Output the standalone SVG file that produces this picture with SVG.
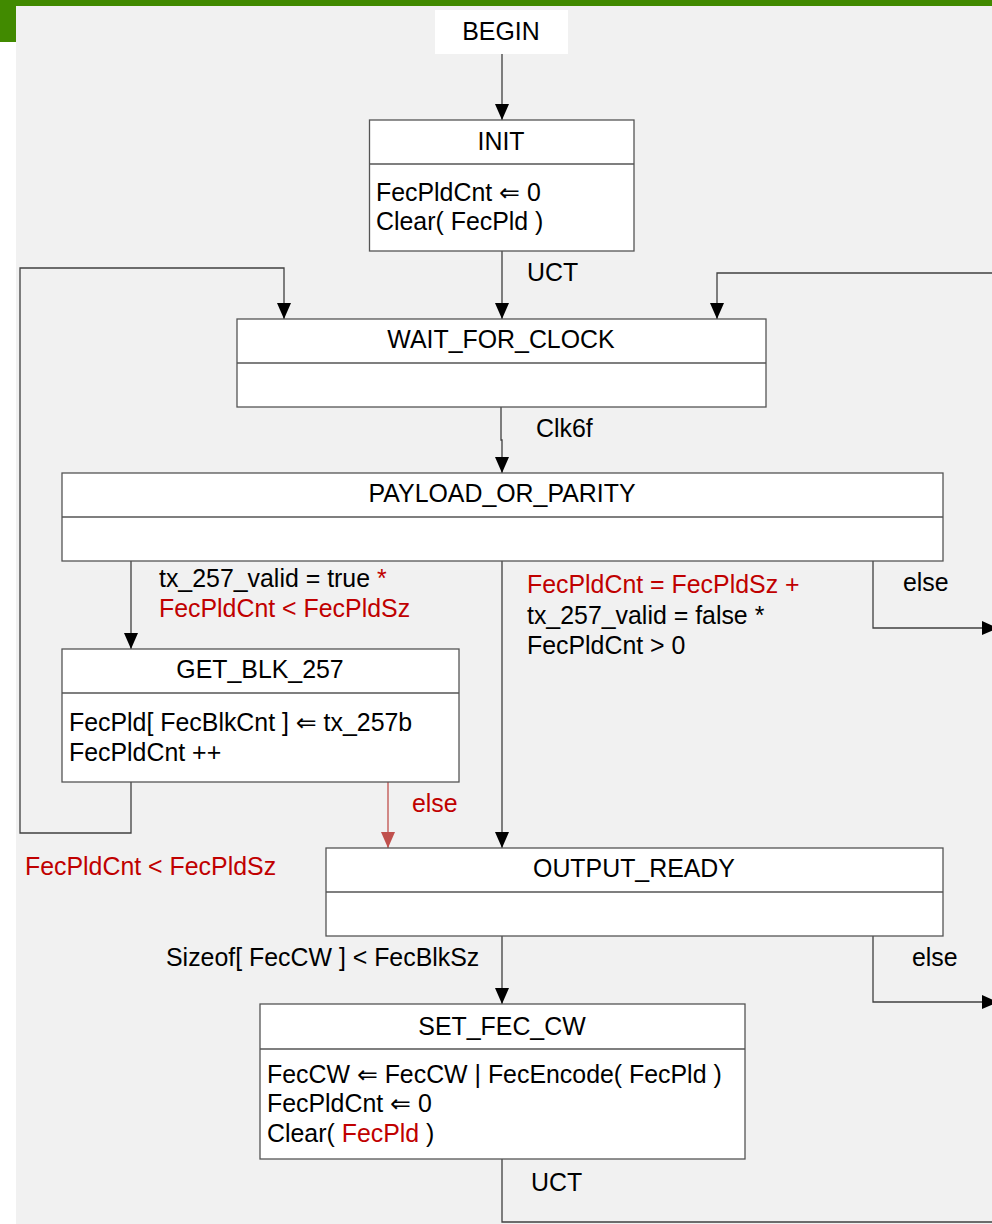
<svg xmlns="http://www.w3.org/2000/svg" width="992" height="1224" viewBox="0 0 992 1224">
  <style>
    text { font-family: "Liberation Sans", Arial, "DejaVu Sans", sans-serif; font-size: 24.9px; fill: #000; }
    .c { text-anchor: middle; }
    .red { fill: #c00000; }
    .box { fill: #fff; stroke: #555; stroke-width: 1.3; }
    .div { stroke: #555; stroke-width: 1.3; }
    .wire { fill: none; stroke: #404040; stroke-width: 1.3; }
    .wire-red { fill: none; stroke: #c0504d; stroke-width: 1.3; }
  </style>
  <defs>
    <marker id="arr" viewBox="0 0 16 14" refX="16" refY="7" markerWidth="16" markerHeight="14" markerUnits="userSpaceOnUse" orient="auto">
      <path d="M0,0 L16,7 L0,14 Z" fill="#000"/>
    </marker>
    <marker id="arr-red" viewBox="0 0 16 14" refX="16" refY="7" markerWidth="16" markerHeight="14" markerUnits="userSpaceOnUse" orient="auto">
      <path d="M0,0 L16,7 L0,14 Z" fill="#c0504d"/>
    </marker>
  </defs>

  <!-- page frame -->
  <rect x="0" y="0" width="992" height="1224" fill="#fff"/>
  <rect x="16" y="6" width="976" height="1218" fill="#f1f1f1"/>
  <rect x="0" y="0" width="992" height="6" fill="#418a00"/>
  <rect x="0" y="0" width="16" height="42" fill="#418a00"/>

  <!-- connectors -->
  <g id="connectors">
    <path class="wire" d="M502,54 V120" marker-end="url(#arr)"/>
    <path class="wire" d="M502,251 V319" marker-end="url(#arr)"/>
    <path class="wire" d="M131,782 V833 H20 V268 H284 V319" marker-end="url(#arr)"/>
    <path class="wire" d="M992,273 H717 V319" marker-end="url(#arr)"/>
    <path class="wire" d="M501,407 V440 H502 V473" marker-end="url(#arr)"/>
    <path class="wire" d="M131,561 V649" marker-end="url(#arr)"/>
    <path class="wire" d="M502,561 V848" marker-end="url(#arr)"/>
    <path class="wire" d="M873,561 V628 H998" marker-end="url(#arr)"/>
    <path class="wire-red" d="M388,782 V848" marker-end="url(#arr-red)"/>
    <path class="wire" d="M502,936 V1004" marker-end="url(#arr)"/>
    <path class="wire" d="M873,936 V1002 H998" marker-end="url(#arr)"/>
    <path class="wire" d="M502,1159 V1222 H992"/>

    <text x="527" y="281">UCT</text>
    <text x="536" y="437">Clk6f</text>
    <text x="159" y="587">tx_257_valid = true <tspan class="red">*</tspan></text>
    <text x="159" y="617" class="red">FecPldCnt &lt; FecPldSz</text>
    <text x="527" y="593" class="red">FecPldCnt = FecPldSz +</text>
    <text x="527" y="624">tx_257_valid = false *</text>
    <text x="527" y="654">FecPldCnt &gt; 0</text>
    <text x="903" y="591">else</text>
    <text x="412" y="812" class="red">else</text>
    <text x="25" y="875" class="red">FecPldCnt &lt; FecPldSz</text>
    <text x="166" y="966">Sizeof[ FecCW ] &lt; FecBlkSz</text>
    <text x="912" y="966">else</text>
    <text x="531" y="1191">UCT</text>
  </g>

  <g id="begin">
    <rect x="435" y="10" width="133" height="44" fill="#fff"/>
    <text x="501" y="40" class="c">BEGIN</text>
  </g>

  <g id="init">
    <rect class="box" x="369.5" y="120" width="264.5" height="131"/>
    <line class="div" x1="369.5" y1="164" x2="634" y2="164"/>
    <text x="501" y="150" class="c">INIT</text>
    <text x="376" y="201">FecPldCnt ⇐ 0</text>
    <text x="376" y="230">Clear( FecPld )</text>
  </g>

  <g id="wait_for_clock">
    <rect class="box" x="237" y="319" width="529" height="88"/>
    <line class="div" x1="237" y1="363" x2="766" y2="363"/>
    <text x="501" y="348" class="c">WAIT_FOR_CLOCK</text>
  </g>

  <g id="payload_or_parity">
    <rect class="box" x="62" y="473" width="881" height="88"/>
    <line class="div" x1="62" y1="517" x2="943" y2="517"/>
    <text x="502" y="502" class="c">PAYLOAD_OR_PARITY</text>
  </g>

  <g id="get_blk_257">
    <rect class="box" x="62" y="649" width="397" height="133"/>
    <line class="div" x1="62" y1="693" x2="459" y2="693"/>
    <text x="260" y="678" class="c">GET_BLK_257</text>
    <text x="69" y="731">FecPld[ FecBlkCnt ] ⇐ tx_257b</text>
    <text x="69" y="761">FecPldCnt ++</text>
  </g>

  <g id="output_ready">
    <rect class="box" x="326" y="848" width="617" height="88"/>
    <line class="div" x1="326" y1="892" x2="943" y2="892"/>
    <text x="634" y="877" class="c">OUTPUT_READY</text>
  </g>

  <g id="set_fec_cw">
    <rect class="box" x="260" y="1004" width="485" height="155"/>
    <line class="div" x1="260" y1="1049" x2="745" y2="1049"/>
    <text x="502" y="1035" class="c">SET_FEC_CW</text>
    <text x="267" y="1083">FecCW ⇐ FecCW | FecEncode( FecPld )</text>
    <text x="267" y="1112">FecPldCnt ⇐ 0</text>
    <text x="267" y="1142">Clear( <tspan class="red">FecPld</tspan> )</text>
  </g>
</svg>
